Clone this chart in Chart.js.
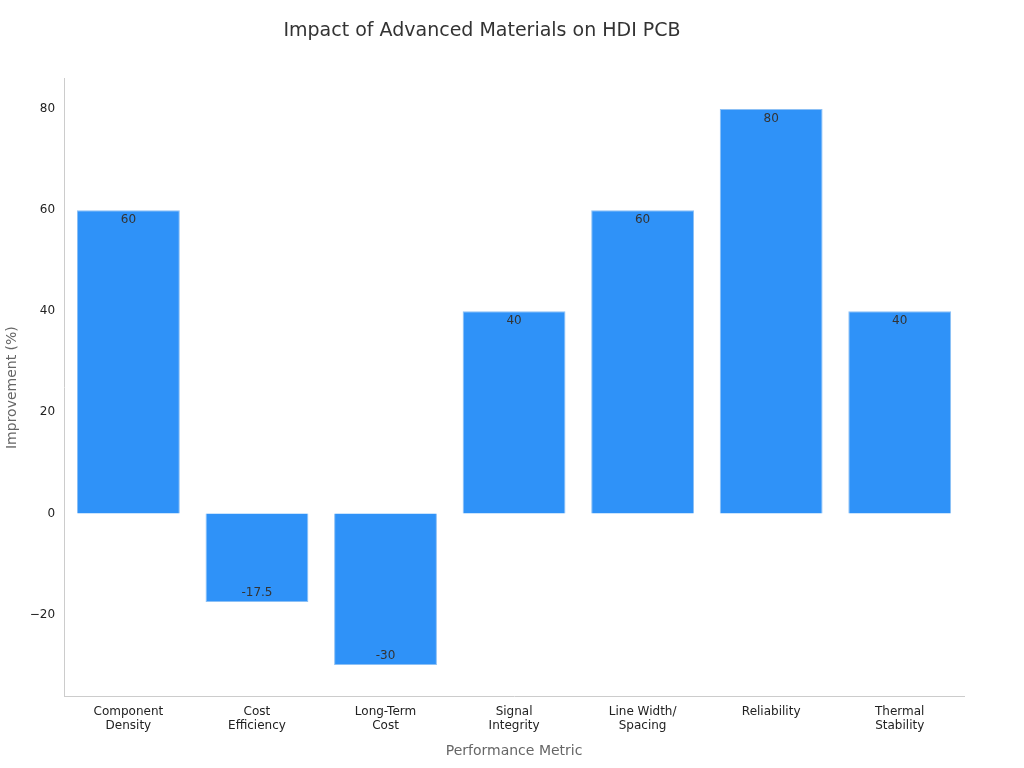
<!DOCTYPE html>
<html>
<head>
<meta charset="utf-8">
<script src="https://cdn.jsdelivr.net/npm/chart.js@4.4.0/dist/chart.umd.min.js"></script>
<style>
  html, body { margin: 0; padding: 0; background: #fff; }
  #wrap { width: 1024px; height: 768px; }
</style>
</head>
<body>
<div id="wrap"><canvas id="chart" width="1024" height="768"></canvas></div>
<script>
const categories = [['Component', 'Density'], ['Cost', 'Efficiency'], ['Long-Term', 'Cost'],
    ['Signal', 'Integrity'], ['Line Width/', 'Spacing'], ['Reliability'], ['Thermal', 'Stability']];
const improvement = [60, -17.5, -30, 40, 60, 80, 40];
const yTicks = [-20, 0, 20, 40, 60, 80];

const barLabels = {
    id: 'barLabels',
    afterDatasetsDraw(chart) {
        const c = chart.ctx;
        const meta = chart.getDatasetMeta(0);
        c.save();
        c.font = '12px "DejaVu Sans"';
        c.fillStyle = '#333';
        c.textAlign = 'center';
        c.textBaseline = 'middle';
        meta.data.forEach((bar, i) => {
            const v = improvement[i];
            const y = v >= 0 ? bar.y + 10 : bar.y - 9;
            c.fillText(String(v), bar.x, y);
        });
        c.restore();
    }
};

new Chart(document.getElementById('chart').getContext('2d'), {
    type: 'bar',
    data: {
        labels: categories,
        datasets: [{
            data: improvement,
            backgroundColor: '#2f92f8',
            borderColor: '#8cc0f5',
            borderWidth: 1,
            barPercentage: 0.8,
            categoryPercentage: 1.0
        }]
    },
    plugins: [barLabels],
    options: {
        responsive: false,
        animation: false,
        layout: { padding: { left: 0, right: 60, top: 0, bottom: 4 } },
        plugins: {
            legend: { display: false },
            tooltip: { enabled: false },
            title: {
                display: true,
                text: 'Impact of Advanced Materials on HDI PCB',
                color: '#333',
                font: { family: 'DejaVu Sans', size: 19, weight: 'normal' },
                padding: { top: 20, bottom: 36 }
            }
        },
        scales: {
            x: {
                grid: { display: false, drawTicks: true, tickLength: 6 },
                border: { color: '#ccc' },
                ticks: { color: '#222', font: { family: 'DejaVu Sans', size: 12 }, padding: 2 },
                title: {
                    display: true, text: 'Performance Metric', color: '#666',
                    font: { family: 'DejaVu Sans', size: 14 }, padding: { top: 8 }
                }
            },
            y: {
                min: -36.2, max: 86,
                afterBuildTicks(axis) { axis.ticks = yTicks.map(v => ({ value: v })); },
                grid: { display: false, drawTicks: true, tickLength: 6 },
                border: { color: '#ccc' },
                ticks: {
                    color: '#222', font: { family: 'DejaVu Sans', size: 12 },
                    callback: v => v < 0 ? '\u2212' + Math.abs(v) : String(v)
                },
                title: {
                    display: true, text: 'Improvement (%)', color: '#666',
                    font: { family: 'DejaVu Sans', size: 14 }, padding: { bottom: 6 }
                }
            }
        }
    }
});
</script>
</body>
</html>
